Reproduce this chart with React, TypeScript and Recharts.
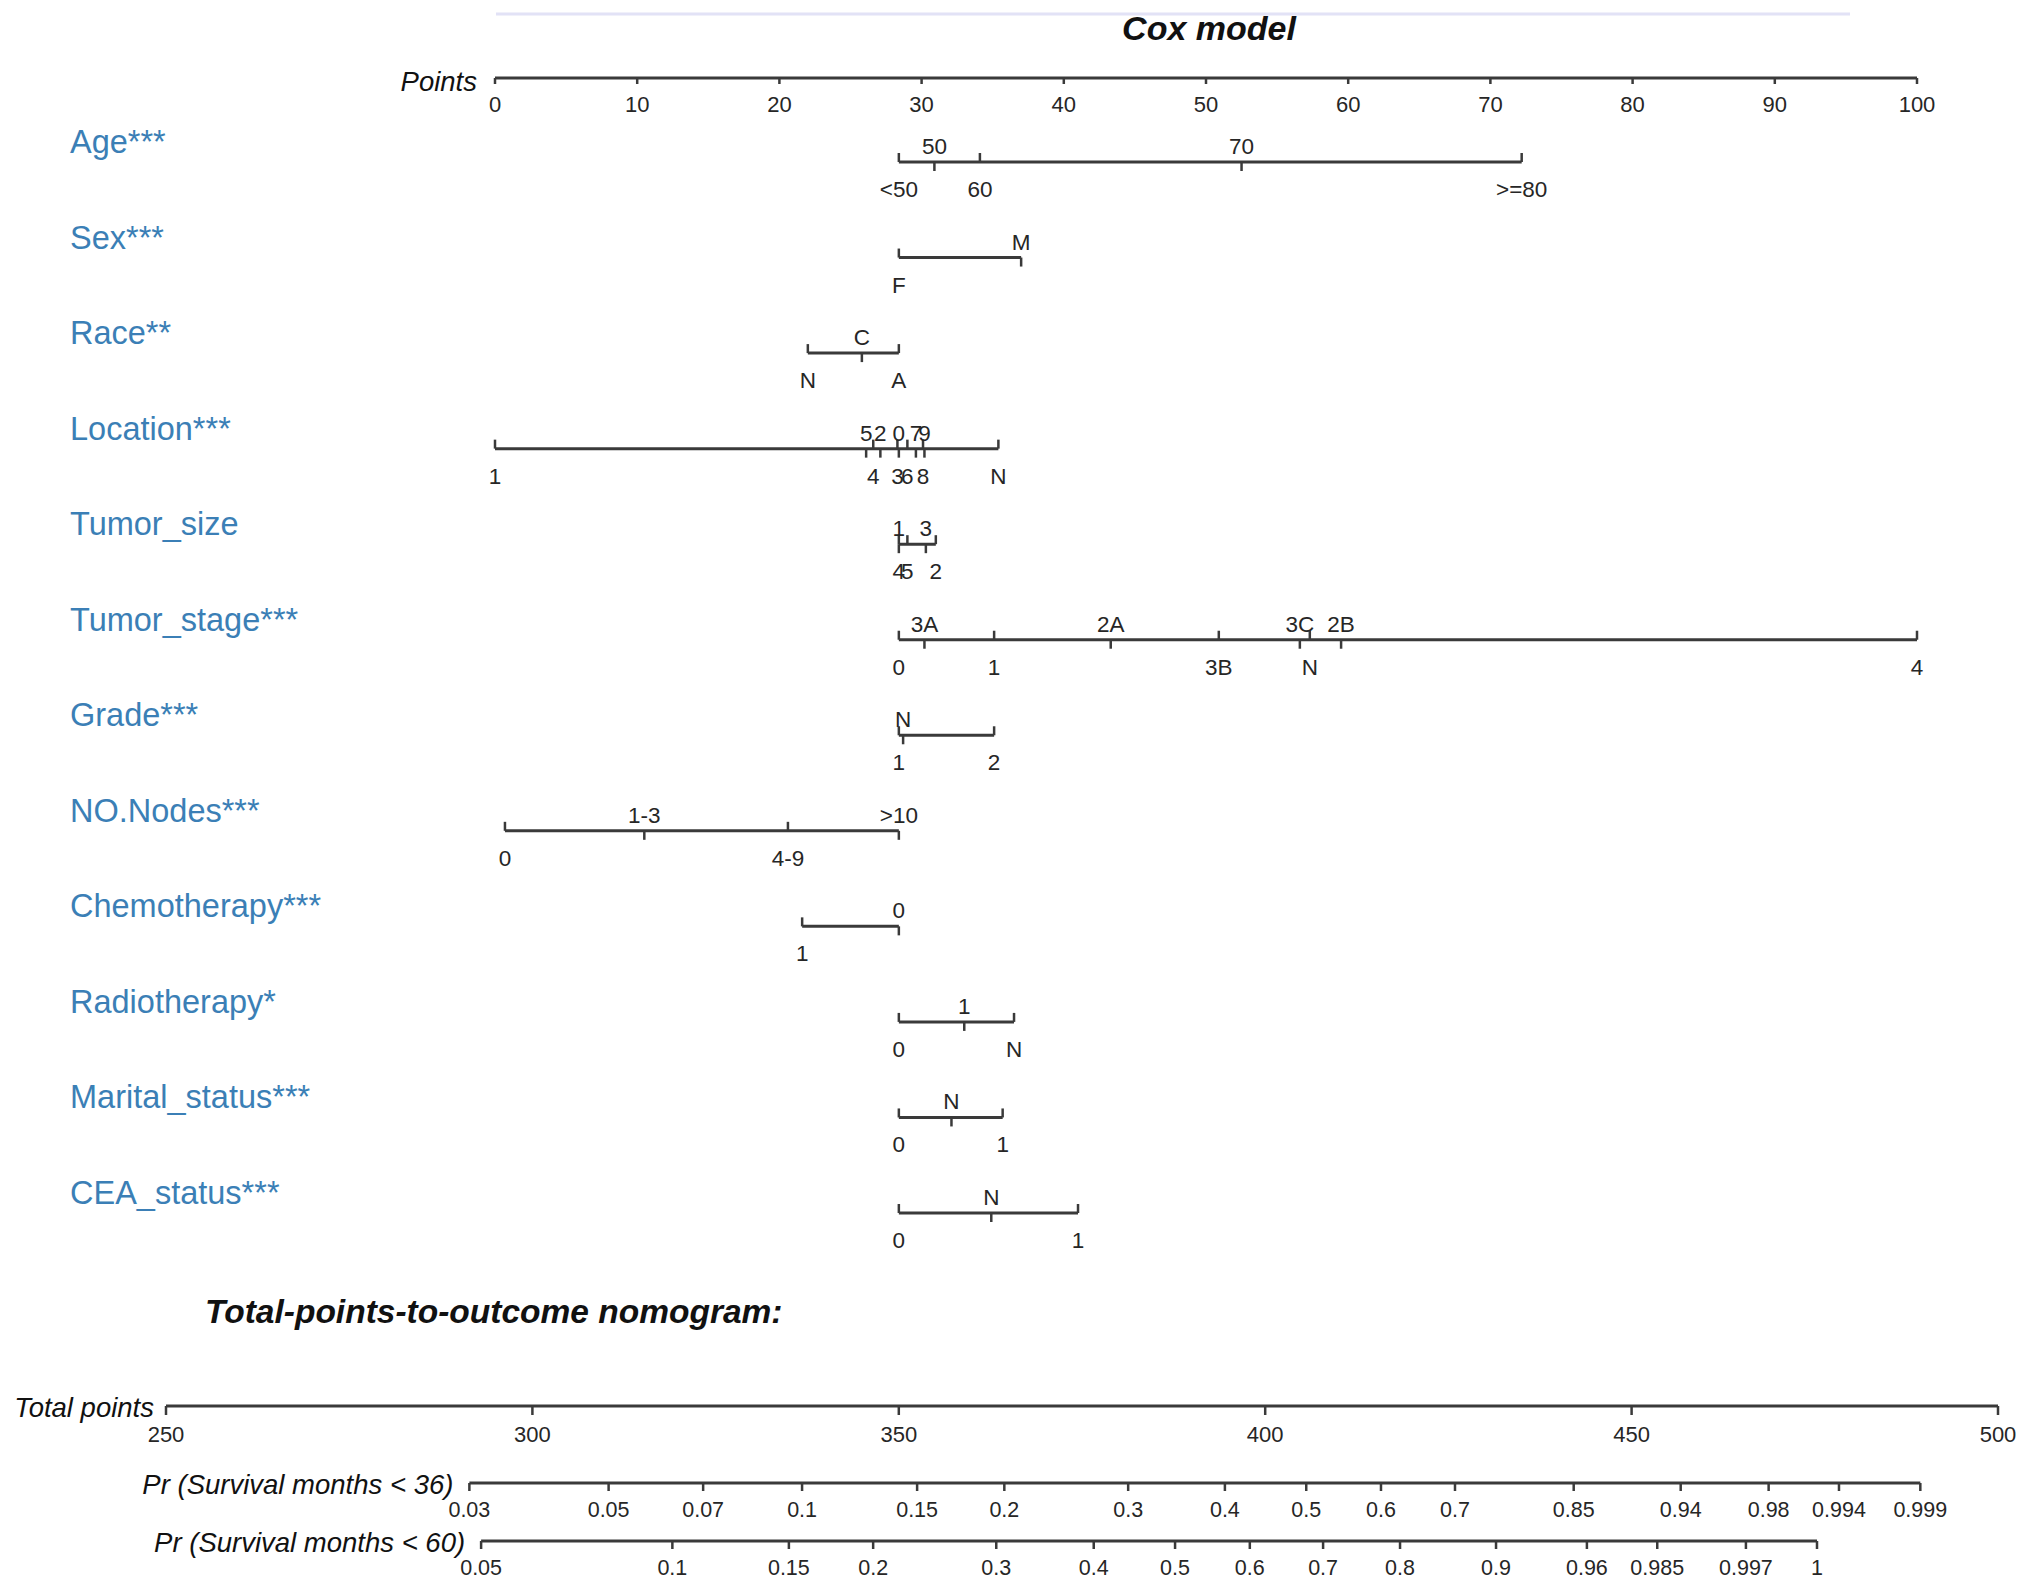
import React from 'react';
import { ScatterChart, Scatter, XAxis, YAxis } from 'recharts';

const FONT = '"Liberation Sans", Arial, Helvetica, sans-serif';
const INK = '#262626';
const LINE = '#3a3a3a';
const BLUE = '#3b7fb6';

// points scale
const POINT_TICKS = [0, 10, 20, 30, 40, 50, 60, 70, 80, 90, 100];

const VARIABLES = [
  'Age***', 'Sex***', 'Race**', 'Location***', 'Tumor_size', 'Tumor_stage***',
  'Grade***', 'NO.Nodes***', 'Chemotherapy***', 'Radiotherapy*', 'Marital_status***', 'CEA_status***',
];

type Level = { label: string; points: number; side: 'above' | 'below' };

const AGE: Level[] = [
  { label: '<50', points: 28.4, side: 'below' },
  { label: '50', points: 30.9, side: 'above' },
  { label: '60', points: 34.1, side: 'below' },
  { label: '70', points: 52.5, side: 'above' },
  { label: '>=80', points: 72.2, side: 'below' },
];
const SEX: Level[] = [
  { label: 'F', points: 28.4, side: 'below' },
  { label: 'M', points: 37.0, side: 'above' },
];
const RACE: Level[] = [
  { label: 'N', points: 22.0, side: 'below' },
  { label: 'C', points: 25.8, side: 'above' },
  { label: 'A', points: 28.4, side: 'below' },
];
const LOCATION: Level[] = [
  { label: '1', points: 0, side: 'below' },
  { label: '5', points: 26.1, side: 'above' },
  { label: '4', points: 26.6, side: 'below' },
  { label: '2', points: 27.1, side: 'above' },
  { label: '0', points: 28.4, side: 'above' },
  { label: '3', points: 28.3, side: 'below' },
  { label: '6', points: 29.0, side: 'below' },
  { label: '7', points: 29.6, side: 'above' },
  { label: '8', points: 30.1, side: 'below' },
  { label: '9', points: 30.2, side: 'above' },
  { label: 'N', points: 35.4, side: 'below' },
];
const TUMOR_SIZE: Level[] = [
  { label: '4', points: 28.4, side: 'below' },
  { label: '1', points: 28.4, side: 'above' },
  { label: '5', points: 29.0, side: 'below' },
  { label: '3', points: 30.3, side: 'above' },
  { label: '2', points: 31.0, side: 'below' },
];
const TUMOR_STAGE: Level[] = [
  { label: '0', points: 28.4, side: 'below' },
  { label: '3A', points: 30.2, side: 'above' },
  { label: '1', points: 35.1, side: 'below' },
  { label: '2A', points: 43.3, side: 'above' },
  { label: '3B', points: 50.9, side: 'below' },
  { label: '3C', points: 56.6, side: 'above' },
  { label: 'N', points: 57.3, side: 'below' },
  { label: '2B', points: 59.5, side: 'above' },
  { label: '4', points: 100, side: 'below' },
];
const GRADE: Level[] = [
  { label: '1', points: 28.4, side: 'below' },
  { label: 'N', points: 28.7, side: 'above' },
  { label: '2', points: 35.1, side: 'below' },
];
const NODES: Level[] = [
  { label: '0', points: 0.7, side: 'below' },
  { label: '1-3', points: 10.5, side: 'above' },
  { label: '4-9', points: 20.6, side: 'below' },
  { label: '>10', points: 28.4, side: 'above' },
];
const CHEMO: Level[] = [
  { label: '1', points: 21.6, side: 'below' },
  { label: '0', points: 28.4, side: 'above' },
];
const RADIO: Level[] = [
  { label: '0', points: 28.4, side: 'below' },
  { label: '1', points: 33.0, side: 'above' },
  { label: 'N', points: 36.5, side: 'below' },
];
const MARITAL: Level[] = [
  { label: '0', points: 28.4, side: 'below' },
  { label: 'N', points: 32.1, side: 'above' },
  { label: '1', points: 35.7, side: 'below' },
];
const CEA: Level[] = [
  { label: '0', points: 28.4, side: 'below' },
  { label: 'N', points: 34.9, side: 'above' },
  { label: '1', points: 41.0, side: 'below' },
];
const LEVELS = [AGE, SEX, RACE, LOCATION, TUMOR_SIZE, TUMOR_STAGE, GRADE, NODES, CHEMO, RADIO, MARITAL, CEA];

// total points scale and outcome probabilities (positioned by total points)
const TOTAL_TICKS = [250, 300, 350, 400, 450, 500];
const OUTCOMES = ['Pr (Survival months < 36)', 'Pr (Survival months < 60)'];
const PR36_LABELS = ['0.03', '0.05', '0.07', '0.1', '0.15', '0.2', '0.3', '0.4', '0.5', '0.6', '0.7', '0.85', '0.94', '0.98', '0.994', '0.999'];
const PR36_TOTALS = [291.4, 310.4, 323.3, 336.8, 352.5, 364.4, 381.3, 394.5, 405.6, 415.8, 425.9, 442.1, 456.7, 468.7, 478.3, 489.4];
const PR60_LABELS = ['0.05', '0.1', '0.15', '0.2', '0.3', '0.4', '0.5', '0.6', '0.7', '0.8', '0.9', '0.96', '0.985', '0.997', '1'];
const PR60_TOTALS = [293.0, 319.1, 335.0, 346.5, 363.3, 376.6, 387.7, 397.9, 407.9, 418.4, 431.5, 443.9, 453.5, 465.6, 475.3];

const LABEL_X = 70;

const rowData = LEVELS.map((levels, row) =>
  levels
    .map(l => ({ x: l.points, y: row, label: l.label, side: l.side }))
    .sort((a, b) => a.x - b.x)
);

const outcomeData = [
  PR36_TOTALS.map((t, i) => ({ x: t, y: 0, label: PR36_LABELS[i], first: i === 0 })),
  PR60_TOTALS.map((t, i) => ({ x: t, y: 1, label: PR60_LABELS[i], first: i === 0 })),
];

const LevelMark = (props: any) => {
  const { cx, cy, payload } = props;
  // tick points towards the line, label sits on the other side
  const below = payload.side === 'below';
  return (
    <g>
      <line x1={cx} x2={cx} y1={cy} y2={below ? cy - 9 : cy + 9} stroke={LINE} strokeWidth={2.5} />
      <text x={cx} y={below ? cy + 35 : cy - 8} textAnchor="middle" fontSize={22.5} fill={INK} fontFamily={FONT}>
        {payload.label}
      </text>
    </g>
  );
};

const OutcomeMark = (props: any) => {
  const { cx, cy, payload } = props;
  return (
    <g>
      <line x1={cx} x2={cx} y1={cy} y2={cy + 8} stroke={LINE} strokeWidth={2.5} />
      <text x={cx} y={cy + 34} textAnchor="middle" fontSize={21.5} fill={INK} fontFamily={FONT}>
        {payload.label}
      </text>
      {payload.first && (
        <text x={cx - 16} y={cy + 11} textAnchor="end" fontSize={27.5} fontStyle="italic" fill="#111" fontFamily={FONT}>
          {OUTCOMES[payload.y]}
        </text>
      )}
    </g>
  );
};

const PointsTick = (props: any) => {
  const { x, y, payload } = props;
  return (
    <g>
      <line x1={x} x2={x} y1={y} y2={y + 6} stroke={LINE} strokeWidth={2.5} />
      <text x={x} y={y + 34} textAnchor="middle" fontSize={22} fill={INK} fontFamily={FONT}>
        {payload.value}
      </text>
      {payload.value === POINT_TICKS[0] && (
        <text x={x - 18} y={y + 13} textAnchor="end" fontSize={27.5} fontStyle="italic" fill="#111" fontFamily={FONT}>
          Points
        </text>
      )}
    </g>
  );
};

const TotalTick = (props: any) => {
  const { x, y, payload } = props;
  return (
    <g>
      <line x1={x} x2={x} y1={y} y2={y + 9} stroke={LINE} strokeWidth={2.5} />
      <text x={x} y={y + 36} textAnchor="middle" fontSize={22} fill={INK} fontFamily={FONT}>
        {payload.value}
      </text>
      {payload.value === TOTAL_TICKS[0] && (
        <text x={x - 12} y={y + 11} textAnchor="end" fontSize={27.5} fontStyle="italic" fill="#111" fontFamily={FONT}>
          Total points
        </text>
      )}
    </g>
  );
};

const VariableTick = (props: any) => {
  const { y, payload } = props;
  return (
    <text x={LABEL_X} y={y - 9} textAnchor="start" fontSize={32.5} fill={BLUE} fontFamily={FONT}>
      {VARIABLES[payload.value]}
    </text>
  );
};

export default function App() {
  return (
    <div style={{ position: 'absolute', left: 0, top: 0, width: 2031, height: 1588, background: '#fff', fontFamily: FONT }}>
      <svg width={2031} height={1588} style={{ position: 'absolute', left: 0, top: 0 }}>
        <line x1={496} x2={1850} y1={14} y2={14} stroke="#e2e2f6" strokeWidth={3} />
        <text x={1209} y={40} textAnchor="middle" fontSize={34} fontWeight="bold" fontStyle="italic" fill="#111" fontFamily={FONT}>
          Cox model
        </text>
        <text x={205} y={1323} textAnchor="start" fontSize={33.5} fontWeight="bold" fontStyle="italic" fill="#111" fontFamily={FONT}>
          Total-points-to-outcome nomogram:
        </text>
      </svg>

      <div style={{ position: 'absolute', left: 0, top: 0 }}>
        <ScatterChart width={2031} height={1270} margin={{ top: 77, right: 114, bottom: 57, left: 70 }}>
          <XAxis
            type="number"
            dataKey="x"
            orientation="top"
            height={1}
            domain={[0, 100]}
            ticks={POINT_TICKS}
            interval={0}
            tickSize={0}
            tickMargin={0}
            tickLine={false}
            axisLine={{ stroke: LINE, strokeWidth: 3 }}
            tick={PointsTick}
          />
          <YAxis
            type="number"
            dataKey="y"
            width={425}
            reversed
            domain={[0, VARIABLES.length - 1]}
            padding={{ top: 84, bottom: 0 }}
            ticks={VARIABLES.map((_, i) => i)}
            interval={0}
            axisLine={false}
            tickLine={false}
            tick={VariableTick}
          />
          {rowData.map((data, row) => (
            <Scatter
              key={VARIABLES[row]}
              data={data}
              line={{ stroke: LINE, strokeWidth: 3 }}
              shape={LevelMark}
              isAnimationActive={false}
            />
          ))}
        </ScatterChart>
      </div>

      <div style={{ position: 'absolute', left: 0, top: 1290 }}>
        <ScatterChart width={2031} height={298} margin={{ top: 115, right: 33, bottom: 47, left: 166 }}>
          <XAxis
            type="number"
            dataKey="x"
            orientation="top"
            height={1}
            domain={[250, 500]}
            ticks={TOTAL_TICKS}
            interval={0}
            tickSize={0}
            tickMargin={0}
            tickLine={false}
            axisLine={{ stroke: LINE, strokeWidth: 3 }}
            tick={TotalTick}
          />
          <YAxis type="number" dataKey="y" hide reversed domain={[0, 1]} padding={{ top: 77, bottom: 0 }} />
          {outcomeData.map((data, row) => (
            <Scatter
              key={OUTCOMES[row]}
              data={data}
              line={{ stroke: LINE, strokeWidth: 3 }}
              shape={OutcomeMark}
              isAnimationActive={false}
            />
          ))}
        </ScatterChart>
      </div>
    </div>
  );
}
